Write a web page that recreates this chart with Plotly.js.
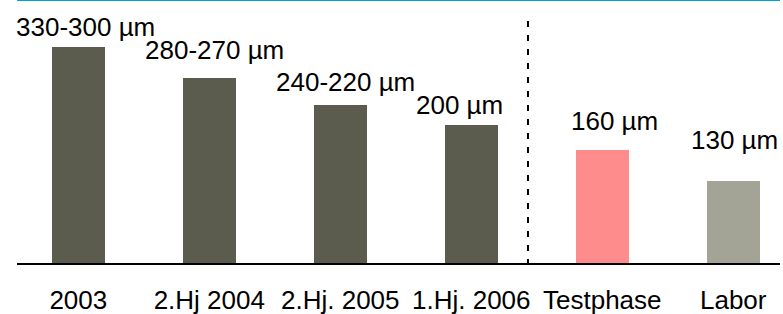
<!DOCTYPE html>
<html>
<head>
<meta charset="utf-8">
<script src="https://cdn.plot.ly/plotly-3.0.1.min.js"></script>
<style>html,body{margin:0;padding:0;background:#fff;}#chart{width:783px;height:314px;}</style>
</head>
<body>
<div id="chart"></div>
<script>
// Data
const categories = ["2003", "2.Hj 2004", "2.Hj. 2005", "1.Hj. 2006", "Testphase", "Labor"];
const values = [313, 268, 229, 200, 164, 119];
const valueLabels = ["330-300 µm", "280-270 µm", "240-220 µm", "200 µm", "160 µm", "130 µm"];
const barColors = ["#5c5c4e", "#5c5c4e", "#5c5c4e", "#5c5c4e", "#ff8c8c", "#a4a496"];

const font = "Liberation Sans, Arial, sans-serif";

const trace = {
  type: "bar",
  x: categories,
  y: values,
  width: 0.405,
  marker: {color: barColors, line: {width: 0}},
  hoverinfo: "none"
};

// label placement tweaks (pixels, relative to each bar top-centre)
const labelDx = [7, 5, 5, -12, 12, 1];
const labelDy = [3, 11, 6, 3, 12, 24];

const annotations = categories.map((c, i) => ({
  x: i, y: values[i], xref: "x", yref: "y",
  text: valueLabels[i], showarrow: false,
  xanchor: "center", yanchor: "bottom",
  xshift: labelDx[i], yshift: labelDy[i],
  font: {family: font, size: 26, color: "#000"}
}));

const layout = {
  width: 783, height: 314,
  margin: {l: 17, r: 3, t: 0, b: 51},
  paper_bgcolor: "#fff", plot_bgcolor: "#fff",
  showlegend: false,
  bargap: 0,
  xaxis: {
    type: "category",
    range: [-0.468, 5.357],
    showline: true, linecolor: "#000", linewidth: 1.5,
    showgrid: false, zeroline: false, ticks: "",
    ticklabelstandoff: 13,
    tickfont: {family: font, size: 26, color: "#000"}
  },
  yaxis: {
    range: [0, 381],
    showline: false, showgrid: false, zeroline: false,
    showticklabels: false, ticks: ""
  },
  annotations: annotations,
  shapes: [
    {type: "line", xref: "paper", yref: "paper", x0: 0, x1: 1, y0: 1, y1: 1,
     line: {color: "#00a0d8", width: 2}, layer: "above"},
    {type: "line", xref: "x", yref: "paper", x0: 3.433, x1: 3.433, y0: 0.920, y1: -0.012,
     line: {color: "#000", width: 2, dash: "6px,8px"}}
  ]
};

Plotly.newPlot("chart", [trace], layout, {displayModeBar: false, staticPlot: true});
</script>
</body>
</html>
